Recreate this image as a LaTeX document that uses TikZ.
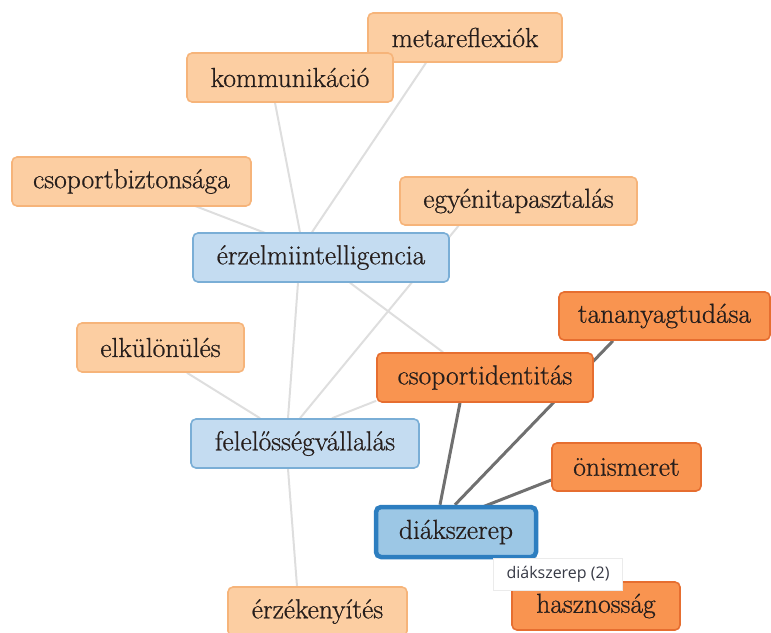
\documentclass[tikz,border=0pt]{standalone}
\usepackage{fontspec}
\newfontfamily\tipfont{Open Sans}
\newfontfamily\boxfont{Latin Modern Roman}[FakeBold=0.7]
\usetikzlibrary{calc,backgrounds}
\definecolor{lofill}{RGB}{252,206,162}
\definecolor{lodraw}{RGB}{246,180,122}
\definecolor{dofill}{RGB}{249,148,80}
\definecolor{dodraw}{RGB}{230,110,48}
\definecolor{blfill}{RGB}{196,220,241}
\definecolor{bldraw}{RGB}{122,174,214}
\definecolor{dsfill}{RGB}{156,199,229}
\definecolor{dsdraw}{RGB}{45,126,192}
\definecolor{ltedge}{RGB}{222,222,222}
\definecolor{dkedge}{RGB}{112,112,112}
\definecolor{tiptext}{RGB}{55,58,70}
\definecolor{boxtext}{RGB}{38,30,28}
\tikzset{
  box/.style={rectangle, rounded corners=5pt, line width=1.6pt, inner sep=0pt,
    font=\boxfont\fontsize{27.5}{30}\selectfont, text=boxtext},
  lightbox/.style={box, fill=lofill, draw=lodraw},
  darkbox/.style={box, fill=dofill, draw=dodraw},
  bluebox/.style={box, fill=blfill, draw=bldraw},
  selbox/.style={box, fill=dsfill, draw=dsdraw, line width=4.5pt},
  ledge/.style={draw=ltedge, line width=2pt},
  dedge/.style={draw=dkedge, line width=3pt},
  tipbox/.style={rectangle, fill=white, draw=black!8, line width=0.6pt, inner sep=0pt,
    font=\tipfont\fontsize{16}{19}\selectfont, text=tiptext}
}
\begin{document}
\begin{tikzpicture}[x=1pt,y=-1pt]
\useasboundingbox (0,0) rectangle (771,632);
% nodes
\node[lightbox, minimum width=194pt, minimum height=49pt] (meta) at (465,37.5) {metareflexiók};
\node[lightbox, minimum width=206pt, minimum height=49pt] (komm) at (290,77.5) {kommunikáció};
\node[lightbox, minimum width=239pt, minimum height=49pt] (csb) at (131.5,181.5) {csoportbiztonsága};
\node[lightbox, minimum width=237pt, minimum height=48pt] (egy) at (518.5,201) {egyénitapasztalás};
\node[bluebox, minimum width=256pt, minimum height=49pt] (erz) at (321,257.5) {érzelmiintelligencia};
\node[darkbox, minimum width=211pt, minimum height=48pt] (tan) at (664.5,316) {tananyagtudása};
\node[lightbox, minimum width=167pt, minimum height=49pt] (elk) at (160.5,347.5) {elkülönülés};
\node[darkbox, minimum width=216pt, minimum height=49pt] (csid) at (485,377.5) {csoportidentitás};
\node[bluebox, minimum width=228pt, minimum height=49pt] (fel) at (305,443.5) {felelősségvállalás};
\node[darkbox, minimum width=149pt, minimum height=48pt] (onis) at (626.5,467) {önismeret};
\node[selbox, minimum width=160pt, minimum height=50pt] (diak) at (456,532) {diákszerep};
\node[lightbox, minimum width=179pt, minimum height=49pt] (erzk) at (317.5,611.5) {érzékenyítés};
\node[darkbox, minimum width=168pt, minimum height=48pt] (hasz) at (596,606) {hasznosság};
\node[tipbox, minimum width=129pt, minimum height=32pt] (tip) at (558,574) {diákszerep (2)};
% edges
\begin{scope}[on background layer]
\draw[ledge] ($(komm.south)+(-15,0)$) -- ($(erz.north)+(-21,0)$);
\draw[ledge] ($(meta.south)+(-39,0)$) -- ($(erz.north)+(-9,0)$);
\draw[ledge] (csb.center) -- ($(erz.center)+(8,0)$);
\draw[ledge] ($(egy.south)+(-60,0)$) -- ($(fel.north)+(-5,0)$);
\draw[ledge] ($(erz.south)+(29,0)$) -- ($(csid.north)+(-42,0)$);
\draw[ledge] ($(erz.south)+(-23,0)$) -- ($(fel.north)+(-17,0)$);
\draw[ledge] ($(elk.south)+(26.5,0)$) -- ($(fel.north)+(-45,0)$);
\draw[ledge] ($(csid.south west)+(0,-2)$) -- ($(fel.north)+(27,0)$);
\draw[ledge] ($(fel.south)+(-17,0)$) -- ($(erzk.north)+(-20.5,0)$);
\draw[dedge] ($(diak.north)+(-16,0)$) -- ($(csid.south)+(-25,0)$);
\draw[dedge] ($(diak.north)+(-1,0)$) -- ($(tan.south)+(-51.5,0)$);
\draw[dedge] ($(diak.north)+(27,2)$) -- ($(onis.west)+(0,13)$);
\end{scope}
\end{tikzpicture}
\end{document}
